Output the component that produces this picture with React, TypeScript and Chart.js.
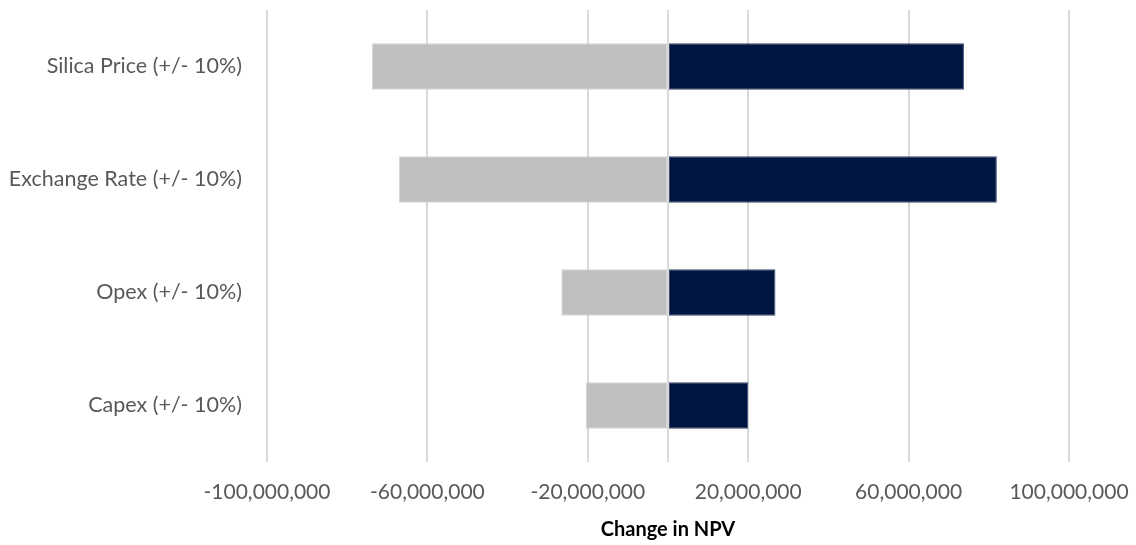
import React, { useEffect, useRef } from "react";
import { Chart, registerables } from "chart.js";

Chart.register(...registerables);

// Sensitivity drivers and their NPV swing for a -10% / +10% change
const drivers = [
  "Silica Price (+/- 10%)",
  "Exchange Rate (+/- 10%)",
  "Opex (+/- 10%)",
  "Capex (+/- 10%)",
];
const downside = [-73800000, -67100000, -26600000, -20500000];
const upside = [73800000, 82000000, 26800000, 20000000];
const xTicks = [-100000000, -60000000, -20000000, 0, 20000000, 60000000, 100000000];

const FONT = "Lato, 'Open Sans', sans-serif";

// Keep the plot area fixed: no extra edge padding for tick labels
const clearPadding = (scale: any) => {
  scale.paddingTop = 0;
  scale.paddingBottom = 0;
  scale.paddingLeft = 0;
  scale.paddingRight = 0;
};

export default function App() {
  const ref = useRef<HTMLCanvasElement | null>(null);

  useEffect(() => {
    document.body.style.margin = "0";
    const canvas = ref.current;
    if (!canvas) return;
    const chart = new Chart(canvas, {
      type: "bar",
      data: {
        labels: drivers,
        datasets: [
          {
            label: "Downside",
            data: downside,
            backgroundColor: "#bfbfbf",
            borderColor: "#d4d4d4",
            borderWidth: 1,
            borderSkipped: false,
          },
          {
            label: "Upside",
            data: upside,
            backgroundColor: "#001640",
            borderColor: "#3a4a6e",
            borderWidth: 1,
            borderSkipped: false,
          },
        ],
      },
      options: {
        indexAxis: "y",
        responsive: false,
        animation: false,
        layout: { padding: { top: 10, right: 67, bottom: 0, left: 0 } },
        datasets: {
          bar: { barPercentage: 0.412, categoryPercentage: 1 },
        },
        plugins: {
          legend: { display: false },
          tooltip: { enabled: false },
        },
        scales: {
          x: {
            type: "linear",
            stacked: true,
            min: -100000000,
            max: 100000000,
            afterBuildTicks: (scale: any) => {
              scale.ticks = xTicks.map((v) => ({ value: v }));
            },
            afterFit: (scale: any) => {
              scale.height = 83;
              clearPadding(scale);
            },
            grid: {
              color: "#d9d9d9",
              lineWidth: 2,
              drawTicks: false,
            },
            border: { display: false },
            ticks: {
              autoSkip: false,
              maxRotation: 0,
              padding: 18,
              color: "#595959",
              font: { family: FONT, size: 21 },
              callback: (v: any) =>
                Number(v) === 0 ? "" : Number(v).toLocaleString("en-US"),
            },
            title: {
              display: true,
              text: "Change in NPV",
              color: "#000000",
              font: { family: FONT, size: 20, weight: "bold" },
              padding: { top: 0, bottom: 3 },
            },
          },
          y: {
            stacked: true,
            afterFit: (scale: any) => {
              scale.width = 267;
              clearPadding(scale);
            },
            grid: { display: false, drawTicks: false },
            border: { display: false },
            ticks: {
              padding: 25,
              color: "#595959",
              font: { family: FONT, size: 21.5 },
            },
          },
        },
      },
    });
    return () => chart.destroy();
  }, []);

  return (
    <div style={{ position: "relative", width: 1136, height: 545, background: "#ffffff" }}>
      <canvas ref={ref} width={1136} height={545} style={{ display: "block" }} />
    </div>
  );
}
